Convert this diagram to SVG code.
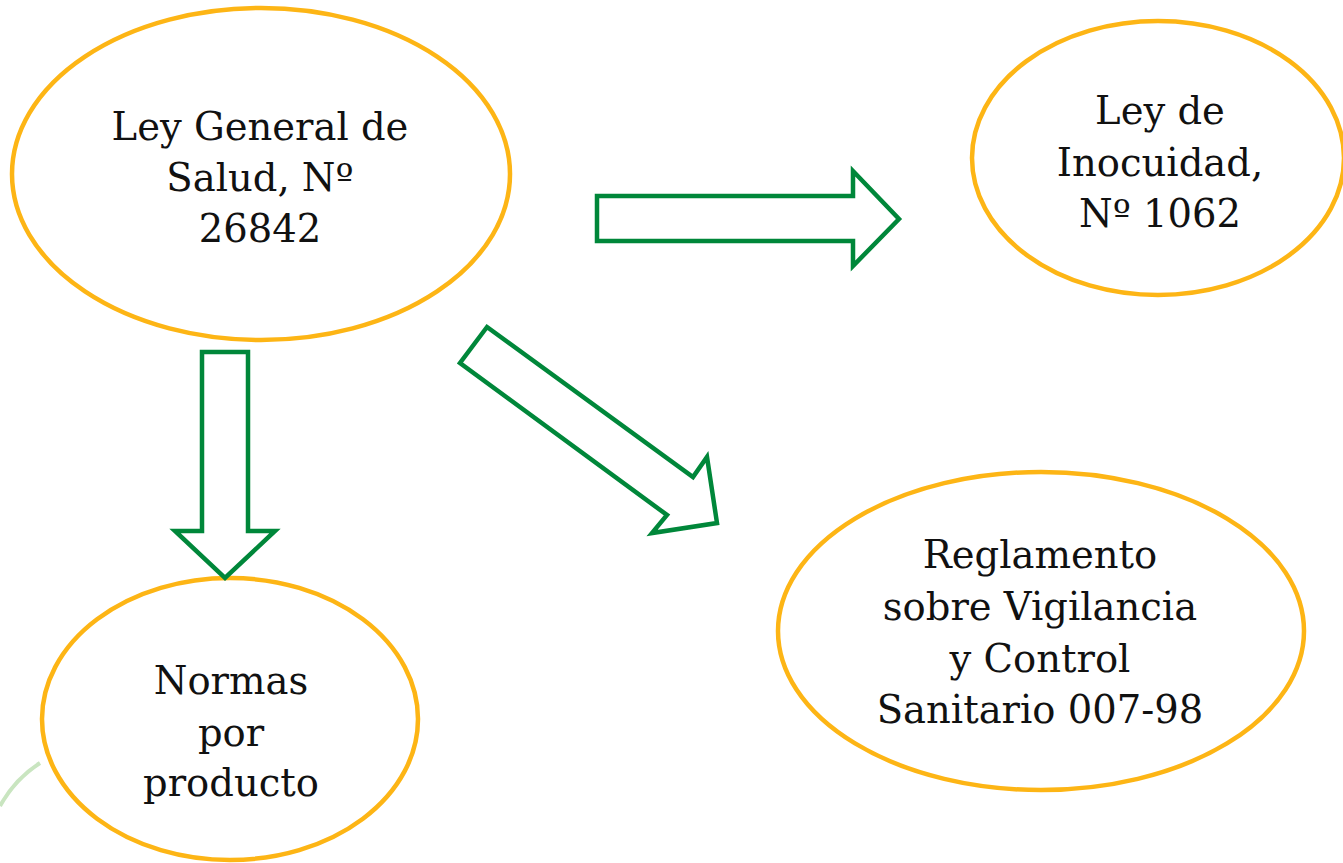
<svg xmlns="http://www.w3.org/2000/svg" width="1343" height="863" viewBox="0 0 1343 863">
<style>
.node{fill:#fff;stroke:#FDB515;stroke-width:4.5}
.arr{fill:#fff;stroke:#00873A;stroke-width:4.5;stroke-linejoin:miter}
.t{font-family:"DejaVu Serif","Liberation Serif",serif;font-size:38.5px;fill:#111;text-anchor:middle}
</style>
<rect width="1343" height="863" fill="#fff"/>
<path d="M40 763 Q15 779 0 806" fill="none" stroke="#c9e5c0" stroke-width="4"/>
<g id="n1"><ellipse class="node" cx="261" cy="174" rx="249" ry="166"/>
<text class="t" x="260" y="140">Ley General de</text><text class="t" x="260" y="191">Salud, Nº</text><text class="t" x="260" y="242">26842</text></g>
<g id="n2"><ellipse class="node" cx="1158" cy="158" rx="186" ry="137"/>
<text class="t" x="1160" y="124">Ley de</text><text class="t" x="1160" y="176">Inocuidad,</text><text class="t" x="1160" y="227">Nº 1062</text></g>
<g id="n3"><ellipse class="node" cx="1041" cy="631" rx="263" ry="159"/>
<text class="t" x="1040" y="568">Reglamento</text><text class="t" x="1040" y="620">sobre Vigilancia</text><text class="t" x="1040" y="672">y Control</text><text class="t" x="1040" y="723">Sanitario 007-98</text></g>
<g id="n4"><ellipse class="node" cx="230" cy="719" rx="188" ry="141"/>
<text class="t" x="231" y="694">Normas</text><text class="t" x="231" y="746">por</text><text class="t" x="231" y="796">producto</text></g>
<g id="connectors">
<polygon class="arr" points="597,196 853,196 853,171 899,219 853,266 853,241 597,241"/>
<polygon class="arr" points="202,352 248,352 248,531 275,531 225,578 175,531 202,531"/>
<polygon class="arr" points="487,327 693,477 707,457 717,523 652,533 667,515 460,363"/>
</g>
</svg>
